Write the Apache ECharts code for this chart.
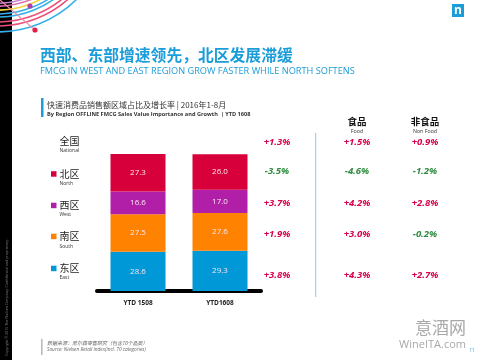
<!DOCTYPE html>
<html><head><meta charset="utf-8">
<script src="https://cdn.jsdelivr.net/npm/echarts@6/dist/echarts.min.js"></script>
<style>html,body{margin:0;padding:0;background:#fff}#c{width:480px;height:360px}</style>
</head><body><div id="c"></div>
<script>
// ---- data ----
var categories = ['YTD 1508', 'YTD1608'];
var eastShare  = [28.6, 29.3];
var southShare = [27.5, 27.6];
var westShare  = [16.6, 17.0];
var northShare = [27.3, 26.0];

var rowNamesCn = ['全国', '北区', '西区', '南区', '东区'];
var rowNamesEn = ['National', 'North', 'West', 'South', 'East'];
var totalGrowth   = [1.3, -3.5, 3.7, 1.9, 3.8];
var foodGrowth    = [1.5, -4.6, 4.2, 3.0, 4.3];
var nonFoodGrowth = [0.9, -1.2, 2.8, -0.2, 2.7];

var titleCn = '西部、东部增速领先，北区发展滞缓';
var titleEn = 'FMCG IN WEST AND EAST REGION GROW FASTER WHILE NORTH SOFTENS';
var headCn = '快速消费品销售额区域占比及增长率 | 2016年1-8月';
var headEn = 'By Region OFFLINE FMCG Sales Value Importance and Growth  | YTD 1608';

// ---- styles ----
var C_NORTH = '#d8003a', C_WEST = '#b11fa9', C_SOUTH = '#ff8300', C_EAST = '#0098d6';
var rowColors = [null, C_NORTH, C_WEST, C_SOUTH, C_EAST];
var BLUE = '#1b9dd9';
var POS = '#d9004c', NEG = '#2e8b3e';
var CJK = '"Noto Sans CJK SC", sans-serif';
var LAT = '"Open Sans", "Noto Sans", sans-serif';

function fmt(v){ return (v > 0 ? '+' : '') + v.toFixed(1) + '%'; }

var chart = echarts.init(document.getElementById('c'), null, {renderer:'canvas'});

var g = [];
// black strip
g.push({type:'rect', shape:{x:0,y:0,width:12,height:360}, style:{fill:'#000'}});
// decorative arcs: stroked circles centred off-canvas
var arcR = [83.8, 86.7, 90.7, 94.5, 97.6, 102.5, 106.5, 112.4];
var arcC = ['#c77fd0', '#de6aa6', '#f3d23a', '#36b0ea', '#36b0ea', '#ec4f7a', '#ec4f7a', '#36b0ea'];
for (var i = 0; i < arcR.length; i++) {
  g.push({type:'circle', shape:{cx:-2.5, cy:-80.5, r:arcR[i]}, style:{fill:'none', stroke:arcC[i], lineWidth:1.6}});
}
g.push({type:'line', shape:{x1:0,y1:0,x2:35,y2:30}, style:{stroke:'#ee8fab', lineWidth:1.2}});
g.push({type:'circle', shape:{cx:30,cy:6,r:2.6}, style:{fill:'#b23fa8'}});
g.push({type:'circle', shape:{cx:35,cy:30,r:2.6}, style:{fill:'#e1204a'}});
// copyright vertical
g.push({type:'text', x:7, y:356, rotation:Math.PI/2, style:{text:'Copyright © 2016 The Nielsen Company. Confidential and proprietary.', fill:'#777', font:'3.6px ' + LAT, textAlign:'left', textVerticalAlign:'middle'}});
// logo
g.push({type:'rect', shape:{x:452,y:4,width:12,height:13}, style:{fill:BLUE}});
g.push({type:'text', x:458, y:11, style:{text:'n', fill:'#fff', font:'bold 12px ' + LAT, textAlign:'center', textVerticalAlign:'middle'}});
// titles
g.push({type:'text', x:40, y:55, style:{text:titleCn, fill:BLUE, font:'bold 15.8px ' + CJK, textAlign:'left', textVerticalAlign:'middle'}});
g.push({type:'text', x:40, y:71, style:{text:titleEn, fill:BLUE, font:'9.2px ' + LAT, textAlign:'left', textVerticalAlign:'middle'}});
// section header
g.push({type:'rect', shape:{x:41,y:98,width:2.5,height:19}, style:{fill:BLUE}});
g.push({type:'text', x:47, y:105, style:{text:headCn, fill:'#333', font:'8px ' + CJK, textAlign:'left', textVerticalAlign:'middle'}});
g.push({type:'text', x:47, y:114, style:{text:headEn, fill:'#333', font:'bold 5.6px ' + LAT, textAlign:'left', textVerticalAlign:'middle'}});
// row legend + growth
var rowY   = [141, 174, 205.5, 236.5, 268.5];
var rowEnY = [150.5, 183.5, 214.5, 246.5, 277.5];
var growY  = [142.5, 171, 203, 234, 275];
for (var k = 0; k < rowNamesCn.length; k++) {
  if (rowColors[k]) {
    g.push({type:'rect', shape:{x:51,y:rowY[k]-2.8,width:5.5,height:5.5}, style:{fill:rowColors[k]}});
  }
  g.push({type:'text', x:59.5, y:rowY[k], style:{text:rowNamesCn[k], fill:'#222', font:'10px ' + CJK, textAlign:'left', textVerticalAlign:'middle'}});
  g.push({type:'text', x:59.5, y:rowEnY[k], style:{text:rowNamesEn[k], fill:'#333', font:'5px ' + LAT, textAlign:'left', textVerticalAlign:'middle'}});
  var cols = [[277, totalGrowth[k]], [357, foodGrowth[k]], [425, nonFoodGrowth[k]]];
  for (var j = 0; j < cols.length; j++) {
    var v = cols[j][1];
    g.push({type:'text', x:cols[j][0], y:growY[k], style:{text:fmt(v), fill: v < 0 ? NEG : POS, font:'italic bold 9.5px ' + LAT, textAlign:'center', textVerticalAlign:'middle'}});
  }
}
// column headers
g.push({type:'text', x:357, y:121, style:{text:'食品', fill:'#111', font:'bold 9.5px ' + CJK, textAlign:'center', textVerticalAlign:'middle'}});
g.push({type:'text', x:357, y:131, style:{text:'Food', fill:'#333', font:'5.3px ' + LAT, textAlign:'center', textVerticalAlign:'middle'}});
g.push({type:'text', x:425, y:121, style:{text:'非食品', fill:'#111', font:'bold 9.5px ' + CJK, textAlign:'center', textVerticalAlign:'middle'}});
g.push({type:'text', x:425, y:131, style:{text:'Non Food', fill:'#333', font:'5.3px ' + LAT, textAlign:'center', textVerticalAlign:'middle'}});
// divider
g.push({type:'line', shape:{x1:315.7,y1:133,x2:315.7,y2:297}, style:{stroke:'#8ecbe6', lineWidth:1}});
// footer
g.push({type:'rect', shape:{x:41,y:339,width:1.6,height:16}, style:{fill:'#bbb'}});
g.push({type:'text', x:47, y:343, style:{text:'数据来源：尼尔森零售研究（包含70个品类）', fill:'#666', font:'italic 5px ' + CJK, textAlign:'left', textVerticalAlign:'middle'}});
g.push({type:'text', x:47, y:350, style:{text:'Source: Nielsen Retail Index(incl. 70 categories)', fill:'#666', font:'italic 4.8px ' + LAT, textAlign:'left', textVerticalAlign:'middle'}});
g.push({type:'text', x:466, y:328, style:{text:'意酒网', fill:'#a8a8a8', font:'17px ' + CJK, textAlign:'right', textVerticalAlign:'middle'}});
g.push({type:'text', x:466, y:345, style:{text:'WineITA.com', fill:'#a8a8a8', font:'11px ' + LAT, textAlign:'right', textVerticalAlign:'middle'}});
g.push({type:'text', x:472, y:351, style:{text:'11', fill:BLUE, font:'4.5px ' + LAT, textAlign:'center', textVerticalAlign:'middle'}});

var lbl = {show:true, position:'inside', color:'#fbe6ee', fontSize:8, fontFamily:LAT,
           formatter:function(p){ return p.value.toFixed(1); }};
function mk(name, data, color){
  return {name:name, type:'bar', stack:'s', barWidth:55, data:data, itemStyle:{color:color}, label:lbl, animation:false};
}

chart.setOption({
  animation:false,
  grid:{left:97, right:219, top:154, bottom:69},
  xAxis:{type:'category', data:categories, offset:2,
    axisLine:{lineStyle:{color:'#000', width:4}}, axisTick:{show:false},
    axisLabel:{color:'#222', fontSize:6.5, fontWeight:'bold', fontFamily:LAT, margin:7}},
  yAxis:{type:'value', min:0, max:100, show:false},
  series:[mk('East', eastShare, C_EAST), mk('South', southShare, C_SOUTH), mk('West', westShare, C_WEST), mk('North', northShare, C_NORTH)],
  graphic:g
});
</script></body></html>
